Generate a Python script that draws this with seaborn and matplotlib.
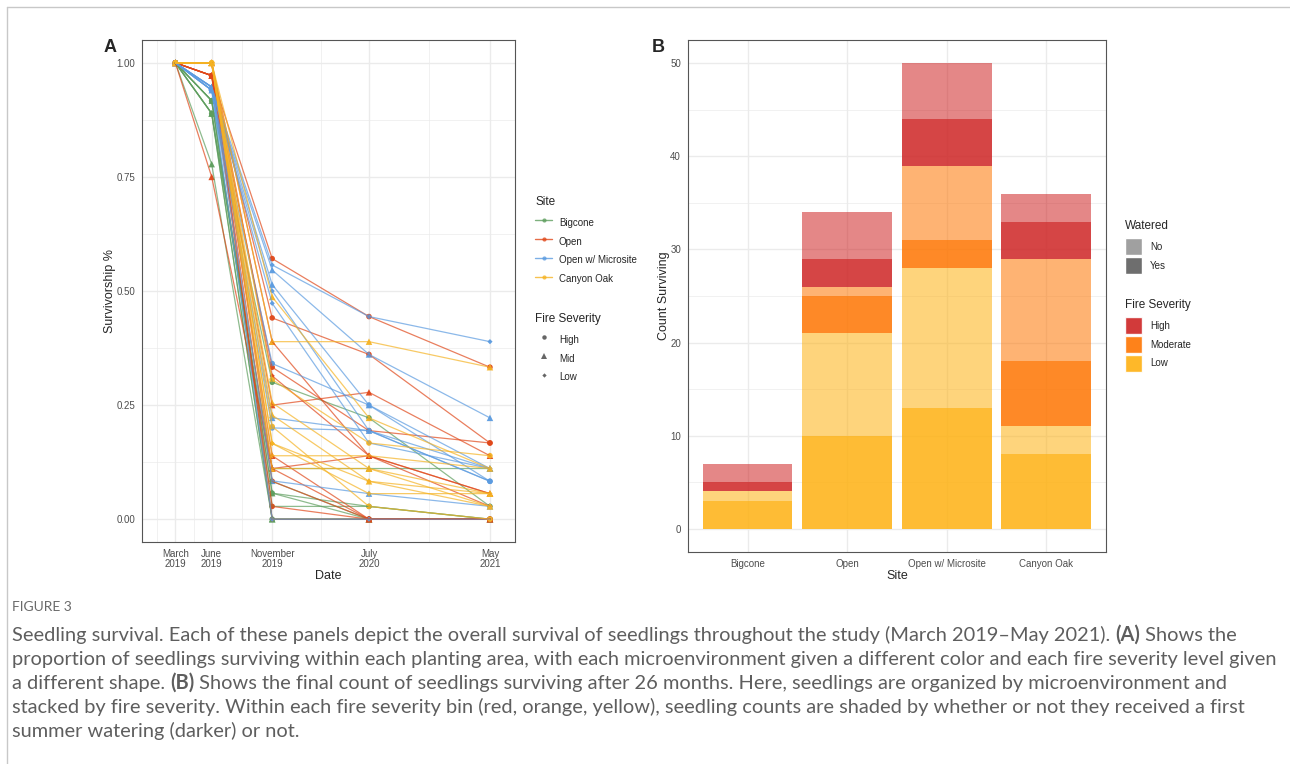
import numpy as np
import pandas as pd
import matplotlib
matplotlib.use("Agg")
import matplotlib.pyplot as plt
from matplotlib.lines import Line2D
from matplotlib.patches import Patch
from matplotlib.ticker import FixedLocator
import seaborn as sns

# --- PANEL A DATA: survivorship per planting area ---
date_labels = ["March\n2019", "June\n2019", "November\n2019", "July\n2020", "May\n2021"]
date_months = [0, 3, 8, 16, 26]  # months after March 2019

sites = ["Bigcone", "Open", "Open w/ Microsite", "Canyon Oak"]
severity_levels = ["High", "Mid", "Low"]

bigcone_sev = ["High", "Mid", "Mid", "High", "Mid", "Low", "High", "Mid", "Low"]
bigcone_surv = [
    [1, 0.917, 0.300, 0.222, 0.028],
    [1, 0.889, 0.111, 0.111, 0.111],
    [1, 0.778, 0.000, 0.000, 0.000],
    [1, 0.917, 0.057, 0.028, 0.000],
    [1, 0.889, 0.000, 0.000, 0.000],
    [1, 0.917, 0.028, 0.028, 0.000],
    [1, 0.889, 0.000, 0.000, 0.000],
    [1, 0.917, 0.057, 0.000, 0.000],
    [1, 0.889, 0.083, 0.000, 0.000],
]

open_sev = ["High", "High", "Mid", "Mid", "High", "Low", "Mid", "High", "Mid", "High", "Low", "Mid"]
open_surv = [
    [1, 0.972, 0.571, 0.444, 0.333],
    [1, 0.972, 0.441, 0.361, 0.167],
    [1, 1.000, 0.389, 0.139, 0.056],
    [1, 0.972, 0.250, 0.278, 0.139],
    [1, 0.972, 0.333, 0.194, 0.167],
    [1, 1.000, 0.314, 0.139, 0.028],
    [1, 0.750, 0.111, 0.000, 0.000],
    [1, 0.972, 0.028, 0.000, 0.000],
    [1, 1.000, 0.111, 0.139, 0.056],
    [1, 0.972, 0.083, 0.000, 0.000],
    [1, 1.000, 0.000, 0.000, 0.000],
    [1, 0.972, 0.139, 0.000, 0.000],
]

micro_sev = ["Low", "Mid", "Mid", "Low", "Low", "High", "Mid", "High", "Mid", "Low"]
micro_surv = [
    [1, 0.947, 0.557, 0.444, 0.389],
    [1, 0.940, 0.546, 0.361, 0.222],
    [1, 0.947, 0.514, 0.250, 0.111],
    [1, 0.940, 0.500, 0.194, 0.083],
    [1, 0.947, 0.473, 0.167, 0.111],
    [1, 0.940, 0.341, 0.250, 0.083],
    [1, 0.947, 0.222, 0.194, 0.111],
    [1, 0.940, 0.200, 0.194, 0.083],
    [1, 0.947, 0.084, 0.056, 0.028],
    [1, 0.940, 0.000, 0.000, 0.000],
]

oak_sev = ["Mid", "Mid", "High", "Mid", "Mid", "Low", "Low", "High", "Low", "Mid"]
oak_surv = [
    [1, 1, 0.389, 0.389, 0.333],
    [1, 1, 0.487, 0.222, 0.111],
    [1, 1, 0.306, 0.167, 0.139],
    [1, 1, 0.255, 0.111, 0.056],
    [1, 1, 0.228, 0.083, 0.056],
    [1, 1, 0.166, 0.056, 0.056],
    [1, 1, 0.139, 0.139, 0.111],
    [1, 1, 0.203, 0.028, 0.000],
    [1, 1, 0.166, 0.083, 0.028],
    [1, 1, 0.111, 0.111, 0.028],
]

# --- PANEL B DATA: final counts surviving ---
bar_sites = ["Bigcone", "Open", "Open w/ Microsite", "Canyon Oak"]
low_yes = [3, 10, 13, 8]
low_no = [1, 11, 15, 3]
mod_yes = [0, 4, 3, 7]
mod_no = [0, 1, 8, 11]
high_yes = [1, 3, 5, 4]
high_no = [2, 5, 6, 3]

# --- STYLE ---
site_colors = {"Bigcone": "#5E9E5E", "Open": "#E0481A",
               "Open w/ Microsite": "#5B9BE0", "Canyon Oak": "#F5B324"}
sev_markers = {"High": "o", "Mid": "^", "Low": "D"}
sev_sizes = {"High": 16, "Mid": 22, "Low": 7}
fire_colors = {"High": "#CE2424", "Moderate": "#FE7501", "Low": "#FEB111"}
GRID = "#EBEBEB"
TICKC = "#4D4D4D"

sns.set_theme(style="white")
plt.rcParams["font.family"] = ["Liberation Sans", "DejaVu Sans"]

W, H = 1290, 764
fig = plt.figure(figsize=(W / 100, H / 100), dpi=100)


def frac_box(left, top, right, bottom):
    return [left / W, 1 - bottom / H, (right - left) / W, (bottom - top) / H]


def style_axes(ax):
    for s in ax.spines.values():
        s.set_color("#555555")
        s.set_linewidth(0.8)
    ax.set_axisbelow(True)
    ax.grid(which="major", color=GRID, linewidth=1.0)
    ax.grid(which="minor", color=GRID, linewidth=0.5)
    ax.tick_params(which="major", length=3, width=0.6, color="#333333",
                   labelsize=7, labelcolor=TICKC, pad=2)
    ax.tick_params(which="minor", length=0)


LEG = dict(loc="upper left", frameon=False, fontsize=7, title_fontsize=8.5,
           handlelength=1.75, handleheight=2.3, labelspacing=0.2,
           borderpad=0, borderaxespad=0, alignment="left")


def add_legend(handles, labels, title, left_px, top_px, textpad):
    leg = fig.legend(handles, labels, title=title, bbox_to_anchor=(left_px / W, 1 - top_px / H),
                     handletextpad=textpad, **LEG)
    leg._legend_box.sep = 4.5  # a bit more room under the title, like ggplot
    return leg


# build long table for panel A
rows = []
area = 0
for site, sev_list, surv in [("Bigcone", bigcone_sev, bigcone_surv),
                             ("Open", open_sev, open_surv),
                             ("Open w/ Microsite", micro_sev, micro_surv),
                             ("Canyon Oak", oak_sev, oak_surv)]:
    for sev, vals in zip(sev_list, surv):
        for m, v in zip(date_months, vals):
            rows.append({"area": area, "site": site, "severity": sev, "month": m, "surv": v})
        area += 1
df_a = pd.DataFrame(rows)

# --- PANEL A ---
axA = fig.add_axes(frac_box(142, 40, 515, 542))
sns.lineplot(data=df_a, x="month", y="surv", hue="site", units="area", estimator=None,
             palette=site_colors, hue_order=sites, linewidth=0.9, alpha=0.7,
             sort=False, legend=False, ax=axA)
sns.scatterplot(data=df_a, x="month", y="surv", hue="site", style="severity",
                size="severity", palette=site_colors, hue_order=sites,
                markers=sev_markers, sizes=sev_sizes, linewidth=0, alpha=0.95,
                legend=False, ax=axA)
axA.set_xlim(-2.76, 28.07)
axA.set_ylim(-0.05, 1.05)
axA.set_xticks(date_months)
axA.set_xticklabels(date_labels, linespacing=0.95)
mids = [(a + b) / 2 for a, b in zip(date_months[:-1], date_months[1:])]
axA.xaxis.set_minor_locator(FixedLocator([date_months[0] - 1.5] + mids))
axA.set_yticks([0, 0.25, 0.5, 0.75, 1.0])
axA.set_yticklabels(["0.00", "0.25", "0.50", "0.75", "1.00"])
axA.yaxis.set_minor_locator(FixedLocator([0.125, 0.375, 0.625, 0.875]))
style_axes(axA)
axA.set_xlabel("Date", fontsize=9, labelpad=1)
axA.set_ylabel("Survivorship %", fontsize=9, labelpad=0.5)
fig.text(104 / W, 1 - 48 / H, "A", fontsize=13, fontweight="bold", va="center", ha="left")

# legends for panel A
site_handles = [Line2D([0], [0], color=site_colors[s], lw=1, alpha=0.8, marker="o",
                       markersize=3, markeredgewidth=0) for s in sites]
add_legend(site_handles, sites, "Site", 535, 196, 0.7)
sev_handles = [Line2D([0], [0], color="#666666", lw=0, marker=sev_markers[s],
                      markersize={"High": 3.2, "Mid": 3.8, "Low": 2.2}[s],
                      markeredgewidth=0) for s in severity_levels]
add_legend(sev_handles, severity_levels, "Fire Severity", 535, 313, 0.7)

# --- PANEL B ---
axB = fig.add_axes(frac_box(688, 40, 1106, 552))
layers = [("Low", low_yes, 0.85), ("Low", low_no, 0.55),
          ("Moderate", mod_yes, 0.85), ("Moderate", mod_no, 0.55),
          ("High", high_yes, 0.85), ("High", high_no, 0.55)]
bottom = np.zeros(len(bar_sites))
for sev, vals, a in layers:
    vals = np.array(vals, dtype=float)
    axB.bar(bar_sites, vals, bottom=bottom, width=0.9, color=fire_colors[sev],
            alpha=a, linewidth=0)
    bottom = bottom + vals
axB.set_xlim(-0.6, len(bar_sites) - 0.4)
axB.set_ylim(-2.5, 52.5)
axB.set_yticks([0, 10, 20, 30, 40, 50])
axB.yaxis.set_minor_locator(FixedLocator([5, 15, 25, 35, 45]))
style_axes(axB)
axB.grid(which="major", axis="x", color=GRID, linewidth=1.0)
axB.set_xlabel("Site", fontsize=9, labelpad=1)
axB.set_ylabel("Count Surviving", fontsize=9, labelpad=0.5)
fig.text(652 / W, 1 - 48 / H, "B", fontsize=13, fontweight="bold", va="center", ha="left")

wat_handles = [Patch(facecolor="#A0A0A0"), Patch(facecolor="#6E6E6E")]
add_legend(wat_handles, ["No", "Yes"], "Watered", 1125, 220, 0.8)
fire_handles = [Patch(facecolor=fire_colors[s], alpha=0.9) for s in ["High", "Moderate", "Low"]]
add_legend(fire_handles, ["High", "Moderate", "Low"], "Fire Severity", 1125, 299, 0.8)

# --- PAGE FRAME AND CAPTION ---
fig.add_artist(Line2D([7 / W, 1], [1 - 7 / H, 1 - 7 / H], color="#C8C8C8", lw=1))
fig.add_artist(Line2D([7 / W, 7 / W], [0, 1 - 7 / H], color="#C8C8C8", lw=1))

CAP = "#5E5E5E"
caption_lines = [
    [("Seedling survival. Each of these panels depict the overall survival of seedlings "
      "throughout the study (March 2019\u2013May 2021). ", False), ("(A)", True), (" Shows the", False)],
    [("proportion of seedlings surviving within each planting area, with each microenvironment "
      "given a different color and each fire severity level given", False)],
    [("a different shape. ", False), ("(B)", True),
     (" Shows the final count of seedlings surviving after 26 months. Here, seedlings are "
      "organized by microenvironment and", False)],
    [("stacked by fire severity. Within each fire severity bin (red, orange, yellow), seedling "
      "counts are shaded by whether or not they received a first", False)],
    [("summer watering (darker) or not.", False)],
]
caption_base = [641, 665, 689, 713, 737]

fig.text(12 / W, 1 - 611 / H, "FIGURE 3", fontsize=10, color="#6A6A6A",
         family="Lato", va="baseline")

renderer = fig.canvas.get_renderer()
probe = fig.text(0, 0, caption_lines[1][0][0], fontsize=12, family="Lato")
cap_size = 12 * 1263 / probe.get_window_extent(renderer).width
probe.remove()

for pieces, base in zip(caption_lines, caption_base):
    x = 12
    for txt, bold in pieces:
        t = fig.text(x / W, 1 - base / H, txt, fontsize=cap_size, color=CAP, family="Lato",
                     fontweight="bold" if bold else "normal", va="baseline", ha="left")
        x += t.get_window_extent(renderer).width

fig.savefig("out.png", dpi=100)
